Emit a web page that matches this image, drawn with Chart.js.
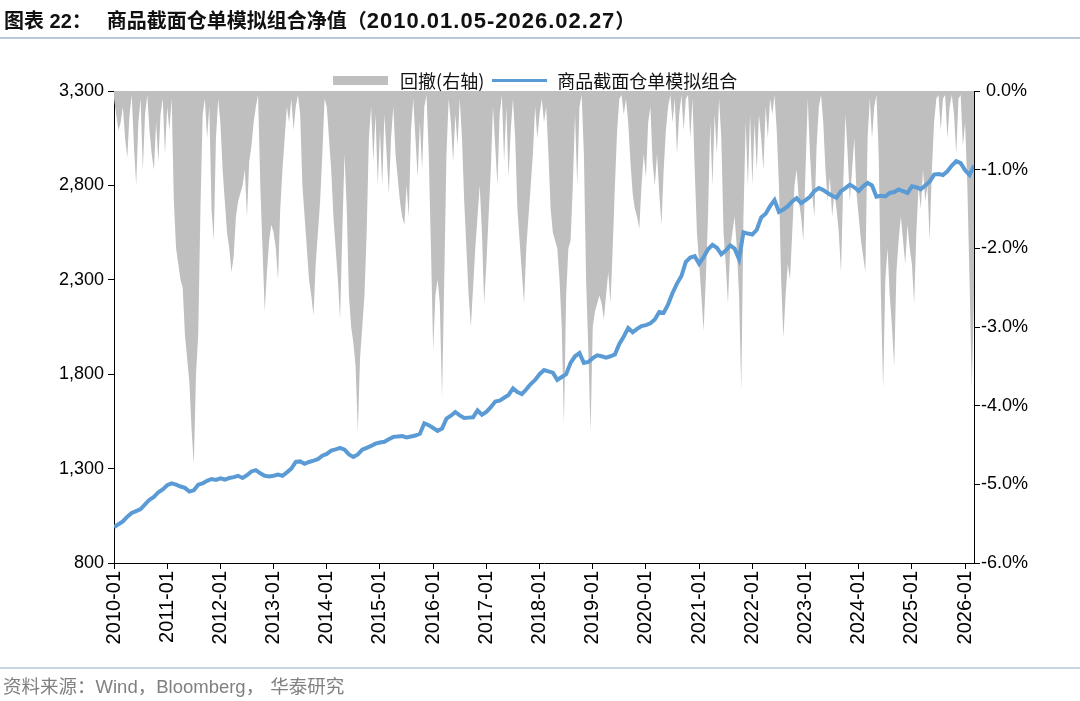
<!DOCTYPE html>
<html lang="zh">
<head>
<meta charset="UTF-8">
<title>商品截面仓单模拟组合净值</title>
<style>
  body { margin: 0; background: #fff; width: 1080px; height: 701px; position: relative; overflow: hidden; }
  #chart { position: absolute; left: 0; top: 0; }
  .title { position: absolute; left: 4px; top: 5px; font: bold 20px "Liberation Sans", "Noto Sans CJK SC", sans-serif; color: #111; white-space: nowrap; }
  .title .cn { font-family: "Noto Sans CJK SC", sans-serif; }
  .title .num { font-size: 22px; letter-spacing: 1px; }
  .rule { position: absolute; left: 0; width: 1080px; height: 2px; background: #b9c9dc; }
  .legend { position: absolute; top: 64px; left: 333px; font: 18px "Noto Sans CJK SC", sans-serif; color: #111; white-space: nowrap; }
  .legend span { display: inline-block; vertical-align: middle; }
  .source { position: absolute; left: 3px; top: 672px; font: 18.5px "Liberation Sans", "Noto Sans CJK SC", sans-serif; color: #808080; white-space: nowrap; }
  .source .cn { font-family: "Noto Sans CJK SC", sans-serif; }
</style>
</head>
<body>
<canvas id="chart" width="1080" height="701"></canvas>
<div class="title"><span class="cn">图表</span> 22<span class="cn">：</span><span style="display:inline-block;width:15px"></span><span class="cn">商品截面仓单模拟组合净值（</span><span class="num">2010.01.05-2026.02.27</span><span class="cn">）</span></div>
<div class="rule" style="top:37px"></div>
<div class="legend">
  <span style="width:55px;height:9px;background:#bfbfbf"></span>
  <span style="margin-left:8px">回撤(右轴)</span>
  <span style="width:55px;height:3px;background:#5b9bd5;margin-left:4px"></span>
  <span style="margin-left:6px">商品截面仓单模拟组合</span>
</div>
<div class="rule" style="top:667px;background:#c8d5e4"></div>
<div class="source"><span class="cn">资料来源：</span>Wind<span class="cn">，</span>Bloomberg<span class="cn">，</span><span class="cn" style="margin-left:6px">华泰研究</span></div>
<script src="https://cdn.jsdelivr.net/npm/chart.js"></script>
<script>
// x axis: years, one tick per January
const years = [2010,2011,2012,2013,2014,2015,2016,2017,2018,2019,2020,2021,2022,2023,2024,2025,2026];
const leftTicks = [800,1300,1800,2300,2800,3300];
const rightTicks = [-6,-5,-4,-3,-2,-1,0];

// 净值, one value per month from 2010-01
const navValues = [
  990,1005,1020,1045,1065,1075,1085,1110,1135,1150,1175,1190,
  1212,1222,1215,1205,1198,1178,1185,1215,1222,1235,1245,1240,
  1248,1242,1250,1255,1262,1250,1265,1285,1292,1275,1262,1258,
  1262,1268,1262,1280,1300,1335,1338,1325,1335,1342,1350,1368,
  1378,1395,1402,1410,1400,1375,1362,1375,1400,1410,1420,1432,
  1438,1442,1455,1468,1470,1472,1465,1470,1475,1485,1540,1530,
  1515,1500,1512,1565,1580,1600,1582,1568,1570,1572,1608,1585,
  1600,1625,1655,1660,1675,1690,1725,1705,1695,1720,1748,1770,
  1800,1822,1815,1808,1770,1785,1800,1860,1895,1912,1860,1865,
  1885,1900,1895,1888,1895,1905,1960,2000,2045,2022,2040,2055,
  2060,2070,2090,2130,2125,2170,2230,2280,2320,2395,2418,2425,
  2385,2420,2462,2485,2470,2435,2455,2482,2465,2410,2552,2545,
  2540,2565,2630,2650,2690,2722,2660,2672,2690,2715,2732,2706,
  2722,2740,2770,2786,2775,2760,2745,2735,2770,2786,2804,2790,
  2770,2795,2813,2800,2740,2745,2742,2760,2765,2778,2770,2760,
  2795,2790,2780,2800,2820,2857,2860,2855,2875,2905,2928,2918,
  2880,2855,2905
];

// 回撤 (%), two values per month from 2010-01
const ddValues = [
  -0.1,-0.3,-0.5,-0.4,-0.2,-0.6,-0.85,-0.3,-0.05,-0.7,-1.2,-0.4,-0.1,-1.0,-0.3,-0.05,-0.5,-0.8,-1.0,-0.4,-0.9,-0.3,-0.1,-0.8,
  -0.2,-0.5,-0.1,-1.4,-2.0,-2.2,-2.4,-2.5,-3.1,-3.4,-3.7,-4.3,-4.75,-3.6,-3.1,-1.5,-0.3,-0.1,-0.6,-0.2,-1.5,-1.9,-0.6,-0.1,
  -0.4,-1.0,-1.4,-1.8,-2.0,-2.3,-2.1,-1.6,-1.4,-1.3,-1.2,-1.0,-1.6,-0.9,-0.7,-0.4,-0.2,-0.05,-1.2,-2.0,-2.8,-2.3,-1.9,-1.7,
  -1.8,-2.0,-2.4,-1.5,-1.0,-0.6,-0.2,-0.4,-0.1,-0.5,-0.2,-0.05,-0.3,-1.2,-1.6,-2.0,-2.4,-2.6,-2.85,-2.2,-1.8,-1.4,-0.8,-0.1,
  -0.2,-0.6,-1.0,-1.6,-2.0,-2.4,-2.9,-1.8,-0.8,-1.5,-2.6,-3.0,-3.2,-3.5,-4.33,-3.4,-3.0,-2.6,-1.8,-0.6,-0.2,-0.9,-0.3,-1.2,
  -0.5,-1.2,-0.3,-0.8,-1.3,-0.6,-0.2,-0.8,-1.1,-1.4,-1.6,-1.7,-1.2,-1.6,-0.5,-0.1,-0.6,-1.1,-0.4,-1.0,-0.2,-0.05,-0.8,-2.0,
  -3.3,-2.6,-2.4,-2.7,-3.9,-2.4,-0.8,-0.1,-0.4,-0.9,-0.3,-0.7,-0.1,-0.6,-1.4,-2.0,-2.6,-3.0,-2.5,-2.0,-1.6,-1.2,-1.8,-2.7,
  -2.2,-1.6,-1.0,-0.2,-0.7,-1.2,-0.3,-0.05,-0.9,-0.2,-1.1,-0.5,-0.1,-0.6,-1.5,-1.9,-2.3,-2.7,-2.0,-1.6,-1.2,-0.8,-0.2,-0.6,
  -0.3,-0.1,-0.4,-0.2,-0.8,-1.5,-1.8,-1.9,-2.0,-2.4,-3.0,-4.24,-2.6,-2.0,-1.9,-1.2,-0.3,-1.2,-0.2,-0.05,-0.8,-2.4,-3.3,-4.33,
  -3.0,-2.8,-2.7,-2.6,-2.7,-2.9,-2.6,-2.3,-2.7,-2.0,-1.2,-0.5,-0.1,-0.05,-0.3,-0.1,-0.4,-0.9,-1.3,-1.5,-1.6,-1.75,-1.2,-0.8,
  -1.1,-0.4,-0.2,-0.9,-1.2,-0.8,-1.3,-1.7,-1.0,-0.5,-0.2,-0.05,-0.4,-0.1,-0.8,-0.3,-0.05,-0.5,-0.1,-0.05,-0.6,-0.1,-1.0,-1.8,
  -2.2,-2.6,-3.05,-2.4,-1.6,-0.4,-1.2,-0.3,-0.8,-0.1,-0.6,-1.8,-2.2,-2.7,-2.0,-1.8,-1.6,-2.0,-2.6,-3.8,-1.6,-0.4,-1.2,-0.3,
  -1.2,-0.4,-1.0,-0.3,-0.6,-1.0,-0.2,-0.6,-0.1,-0.3,-0.05,-0.5,-1.2,-2.4,-3.14,-2.6,-2.2,-2.4,-1.8,-1.2,-1.0,-1.4,-1.6,-1.9,
  -1.0,-0.1,-0.8,-1.3,-1.6,-0.7,-0.2,-0.05,-0.4,-1.0,-1.4,-1.1,-1.6,-1.3,-1.5,-1.8,-2.3,-1.2,-0.3,-0.8,-1.4,-1.0,-0.6,-1.3,
  -1.6,-1.9,-2.1,-2.3,-0.6,-0.1,-0.6,-0.2,-0.05,-0.8,-2.6,-3.78,-2.4,-2.0,-2.6,-3.0,-3.5,-2.3,-1.9,-1.6,-1.9,-2.2,-1.7,-2.0,
  -2.2,-2.7,-1.8,-1.2,-1.5,-1.0,-1.4,-1.2,-1.9,-1.0,-0.4,-0.1,-0.05,-0.5,-0.1,-0.05,-0.6,-0.2,-0.05,-0.3,-0.8,-0.1,-0.05,-0.7,
  -0.4,-1.2,-2.4,-3.8,-2.6
];

const navData = navValues.map((v, i) => ({ x: 2010 + i / 12, y: v }));
const ddData = ddValues.map((v, i) => ({ x: 2010 + i / 24, y: v }));

const tickFont = { family: '"Liberation Sans", Arial, sans-serif', size: 18 };
const xTickFont = { family: '"Liberation Sans", Arial, sans-serif', size: 20 };

new Chart(document.getElementById('chart'), {
  type: 'line',
  data: {
    datasets: [
      { label: '商品截面仓单模拟组合', data: navData, yAxisID: 'y', borderColor: '#5b9bd5', borderWidth: 4,
        pointRadius: 0, tension: 0, fill: false },
      { label: '回撤(右轴)', data: ddData, yAxisID: 'y1', borderWidth: 0, borderColor: 'rgba(0,0,0,0)',
        backgroundColor: '#bfbfbf', pointRadius: 0, tension: 0, fill: { value: 0 } }
    ]
  },
  options: {
    responsive: false,
    animation: false,
    layout: { padding: { top: 91, left: 0, right: 0, bottom: 0 } },
    plugins: { legend: { display: false }, tooltip: { enabled: false } },
    scales: {
      x: {
        type: 'linear', min: 2010, max: 2026.167,
        afterBuildTicks: s => { s.ticks = years.map(v => ({ value: v })); },
        afterFit: s => { s.height = 138; },
        grid: { drawOnChartArea: false, drawTicks: true, tickLength: 6, color: '#000' },
        border: { color: '#000', width: 1 },
        ticks: { callback: v => v + '-01', autoSkip: false, minRotation: 90, maxRotation: 90, padding: 2, color: '#000', font: xTickFont }
      },
      y: {
        position: 'left', min: 800, max: 3300,
        afterBuildTicks: s => { s.ticks = leftTicks.map(v => ({ value: v })); },
        afterFit: s => { s.width = 114; },
        grid: { drawOnChartArea: false, drawTicks: true, tickLength: 6, color: '#000' },
        border: { color: '#000', width: 1 },
        ticks: { callback: v => v.toLocaleString('en-US'), padding: 4, color: '#000', font: tickFont }
      },
      y1: {
        position: 'right', min: -6, max: 0,
        afterBuildTicks: s => { s.ticks = rightTicks.map(v => ({ value: v })); },
        afterFit: s => { s.width = 106; },
        grid: { drawOnChartArea: false, drawTicks: true, tickLength: 6, color: '#000' },
        border: { color: '#000', width: 1 },
        ticks: { callback: v => (v === 0 ? ' ' : '') + v.toFixed(1) + '%', padding: 1, color: '#000', font: tickFont }
      }
    }
  }
});
</script>
</body>
</html>
